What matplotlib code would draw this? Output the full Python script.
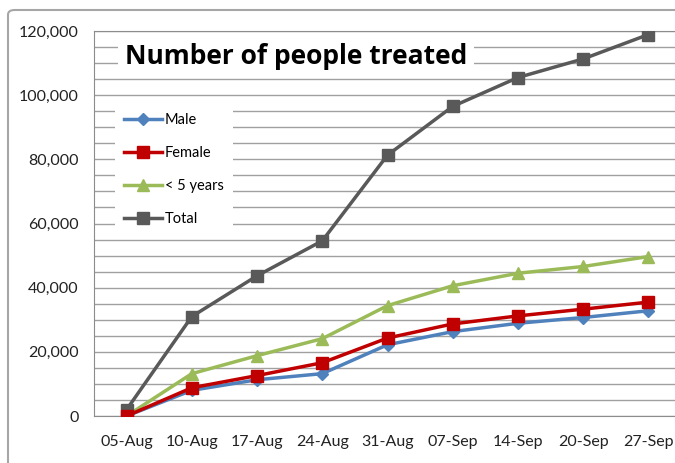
import matplotlib.pyplot as plt
from matplotlib.patches import FancyBboxPatch
from matplotlib.ticker import FuncFormatter, MultipleLocator

dates = ['05-Aug', '10-Aug', '17-Aug', '24-Aug', '31-Aug', '07-Sep', '14-Sep', '20-Sep', '27-Sep']
male = [0, 8000, 11300, 13200, 22200, 26300, 28900, 30700, 32800]
female = [0, 8800, 12600, 16600, 24300, 28700, 31200, 33300, 35500]
under5 = [0, 13200, 18800, 24100, 34400, 40600, 44500, 46600, 49700]
total = [2000, 31000, 43700, 54600, 81300, 96500, 105500, 111300, 118900]

plt.rcParams['font.family'] = ['Lato', 'DejaVu Sans']

W, H = 675, 463
fig = plt.figure(figsize=(W / 100, H / 100), dpi=100)

# outer chart border (runs off the right and bottom edges)
border = FancyBboxPatch((8 / W, -0.05), 1.2, 1 - 10 / H + 0.05,
                        boxstyle='round,pad=0,rounding_size=0.01',
                        transform=fig.transFigure, facecolor='none',
                        edgecolor='#a6a6a6', linewidth=1.5, zorder=-1)
fig.patches.append(border)

ax = fig.add_axes([94 / W, 47 / H, 587 / W, 385 / H])
ax.set_facecolor('white')
x = range(len(dates))

ax.plot(x, male, color='#4F81BD', marker='D', markersize=6, linewidth=2.5, label='Male', zorder=3)
ax.plot(x, female, color='#C00000', marker='s', markersize=9, linewidth=2.5, label='Female', zorder=4)
ax.plot(x, under5, color='#9BBB59', marker='^', markersize=9, linewidth=2.5, label='< 5 years', zorder=3)
ax.plot(x, total, color='#595959', marker='s', markersize=9, linewidth=2.5, label='Total', zorder=3)

ax.set_xlim(-0.5, len(dates) - 0.5)
ax.set_ylim(0, 120000)
ax.set_xticks(list(x))
ax.set_xticklabels(dates)
ax.yaxis.set_major_locator(MultipleLocator(20000))
ax.yaxis.set_minor_locator(MultipleLocator(5000))
ax.yaxis.set_major_formatter(FuncFormatter(lambda v, p: f'{int(v):,}'))
ax.grid(True, which='both', axis='y', color='#a0a0a0', linewidth=1)
ax.set_axisbelow(True)
ax.tick_params(axis='both', which='both', length=0, labelsize=11.5, colors='#222222')
ax.tick_params(axis='y', pad=11)
ax.tick_params(axis='x', pad=14)
for s in ['left', 'top', 'bottom']:
    ax.spines[s].set_color('#8c8c8c')
ax.spines['right'].set_visible(False)

ax.text(125 / W, 1 - 57 / H, 'Number of people treated', transform=fig.transFigure,
        fontsize=19, fontweight='bold', color='black', va='center', ha='left',
        family=['Open Sans', 'DejaVu Sans'],
        bbox=dict(facecolor='white', edgecolor='none', pad=5), zorder=5)

leg = ax.legend(loc='upper left', bbox_to_anchor=(108 / W, 1 - 97 / H),
                bbox_transform=fig.transFigure, frameon=True, fancybox=False,
                edgecolor='none', facecolor='white', framealpha=1,
                labelspacing=1.3, handlelength=2.6, handletextpad=0.2,
                fontsize=10.5, borderpad=0.6)
leg.set_zorder(5)

fig.savefig('out.png', dpi=100)
